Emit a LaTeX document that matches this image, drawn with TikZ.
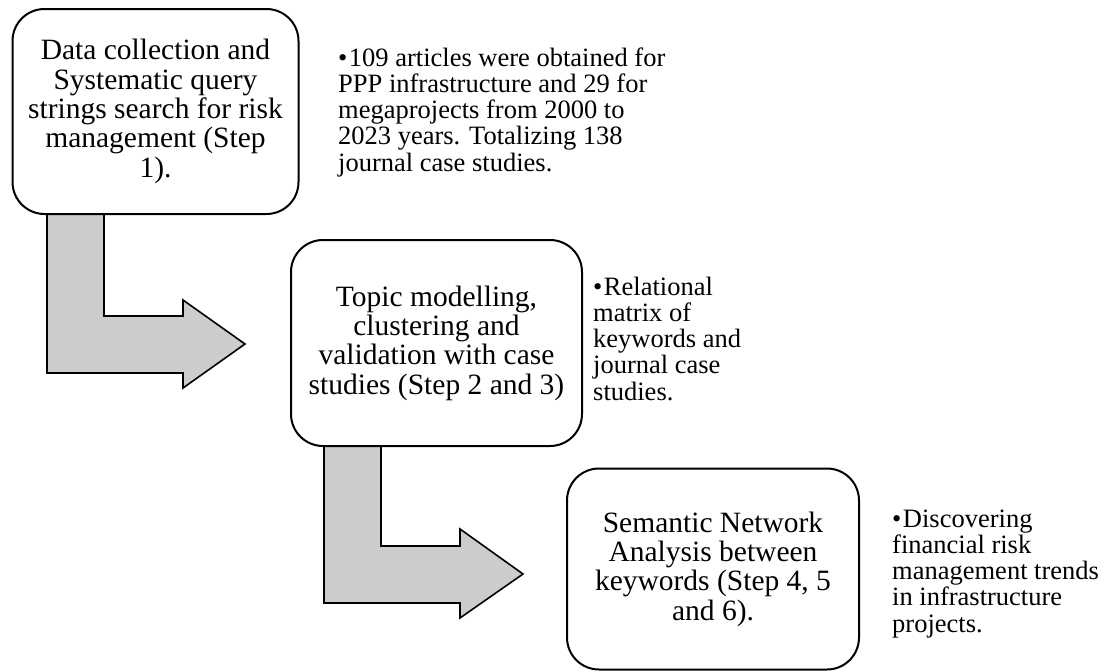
\documentclass[tikz,border=0pt]{standalone}
\usepackage{fontspec}
\setmainfont{Liberation Serif}
\usetikzlibrary{calc}
\definecolor{arrowgray}{HTML}{CCCCCC}
\newlength{\bulw}
\tikzset{
  stepbox/.style={draw=black, line width=2pt, rounded corners=32pt, fill=white,
    align=center, inner sep=0pt, font=\fontsize{29.5}{29.3}\selectfont},
  bendarrow/.style={draw=black, line width=1.6pt, fill=arrowgray, line join=miter},
  bullettext/.style={anchor=base west, inner sep=0pt}
}
\newcommand{\bulpar}[1]{\parbox[t]{400pt}{\fontsize{26.5}{26.3}\selectfont\raggedright
  \settowidth{\bulw}{•}\addtolength{\bulw}{1.5pt}\hangindent=\bulw\hangafter=1 \makebox[\bulw][l]{•}#1}}
\begin{document}
\begin{tikzpicture}[x=1pt,y=-1pt]
\useasboundingbox (0,0) rectangle (1114,672);
% box centres
\coordinate (c1) at (155.5,111.5);
\coordinate (c2) at (436.5,343);
\coordinate (c3) at (713,569);
% arrows first (behind boxes)
\path (c1) ++(-142.5,102.5) coordinate (b1sw);
\path (c2) ++(-145.5,103) coordinate (b2sw);
\draw[bendarrow] ($(b1sw)+(34,0)$) coordinate (a1) -- ++(57,0) -- ++(0,102) -- ++(79,0) -- ++(0,-16)
  -- ++(62,44) coordinate (a1tip) -- ++(-62,44) -- ++(0,-15) -- ++(-136,0) -- cycle;
\draw[bendarrow] ($(b2sw)+(33,0)$) coordinate (a2) -- ++(57,0) -- ++(0,100) -- ++(79,0) -- ++(0,-17)
  -- ++(63,45) coordinate (a2tip) -- ++(-63,44) -- ++(0,-15) -- ++(-136,0) -- cycle;
% boxes
\node[stepbox, minimum width=286pt, minimum height=205pt] (b1) at (c1)
  {Data collection and\\Systematic query\\strings search for risk\\management (Step\\1).};
\node[stepbox, minimum width=291pt, minimum height=206pt] (b2) at (c2)
  {Topic modelling,\\clustering and\\validation with case\\studies (Step 2 and 3)};
\node[stepbox, minimum width=292pt, minimum height=201pt] (b3) at (c3)
  {Semantic Network\\Analysis between\\keywords (Step 4, 5\\and 6).};
% bullet texts
\node[bullettext] (t1) at (338,66) {\bulpar{109 articles were obtained for\\PPP infrastructure and 29 for\\megaprojects from 2000 to\\2023 years. Totalizing 138\\journal case studies.}};
\node[bullettext] (t2) at (593,295) {\bulpar{Relational\\matrix of\\keywords and\\journal case\\studies.}};
\node[bullettext] (t3) at (892,527) {\bulpar{Discovering\\financial risk\\management trends\\in infrastructure\\projects.}};
\end{tikzpicture}
\end{document}
